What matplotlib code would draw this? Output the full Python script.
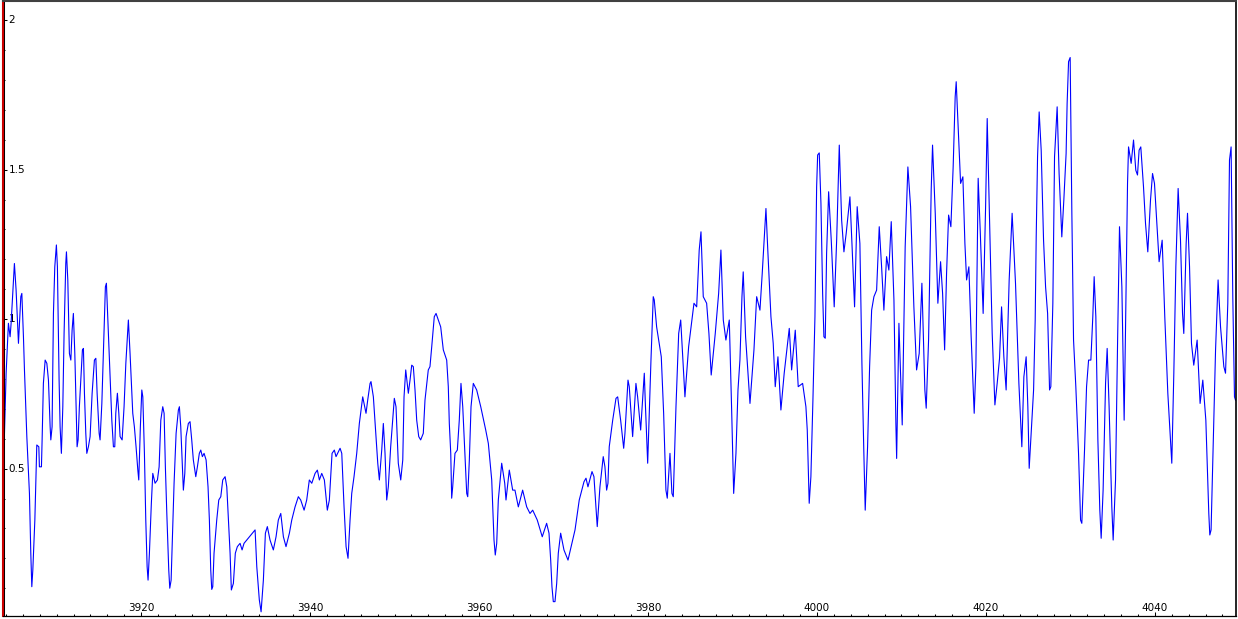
import matplotlib
matplotlib.use('Agg')
import matplotlib.pyplot as plt
from matplotlib.ticker import MultipleLocator

# values (x = sample position, y = amplitude)
x_vals = [
    3903.70, 3903.78, 3904.02, 3904.29, 3904.49, 3904.61, 3904.81, 3905.00, 3905.20, 3905.48,
    3905.76, 3905.88, 3906.07, 3906.19, 3906.47, 3906.78, 3906.94, 3907.06, 3907.18, 3907.42,
    3907.57, 3907.65, 3907.89, 3907.96, 3908.20, 3908.28, 3908.43, 3908.64, 3908.84, 3909.03,
    3909.23, 3909.31, 3909.46, 3909.62, 3909.78, 3909.97, 3910.09, 3910.29, 3910.41, 3910.56,
    3910.73, 3910.88, 3911.08, 3911.16, 3911.32, 3911.51, 3911.68, 3911.83, 3911.98, 3912.15,
    3912.30, 3912.42, 3912.54, 3912.69, 3912.90, 3913.05, 3913.17, 3913.29, 3913.45, 3913.57,
    3913.76, 3913.96, 3914.20, 3914.47, 3914.64, 3914.79, 3915.03, 3915.14, 3915.35, 3915.62,
    3915.77, 3915.89, 3916.09, 3916.33, 3916.53, 3916.72, 3916.88, 3917.00, 3917.19, 3917.36,
    3917.51, 3917.75, 3917.98, 3918.19, 3918.49, 3918.69, 3919.01, 3919.20, 3919.40, 3919.61,
    3919.72, 3919.91, 3920.08, 3920.20, 3920.39, 3920.55, 3920.71, 3920.82, 3920.98, 3921.21,
    3921.38, 3921.65, 3921.93, 3922.13, 3922.33, 3922.56, 3922.72, 3922.87, 3923.04, 3923.27,
    3923.39, 3923.55, 3923.75, 3923.90, 3924.14, 3924.41, 3924.53, 3924.69, 3924.85, 3925.00,
    3925.17, 3925.32, 3925.59, 3925.79, 3925.99, 3926.18, 3926.47, 3926.66, 3926.89, 3927.06,
    3927.25, 3927.45, 3927.69, 3927.92, 3928.08, 3928.24, 3928.36, 3928.48, 3928.63, 3928.95,
    3929.19, 3929.43, 3929.66, 3929.94, 3930.14, 3930.33, 3930.53, 3930.68, 3930.92, 3931.15,
    3931.39, 3931.71, 3931.95, 3932.18, 3932.50, 3932.81, 3933.49, 3933.69, 3933.99, 3934.20,
    3934.47, 3934.71, 3934.94, 3935.26, 3935.65, 3935.97, 3936.24, 3936.53, 3936.84, 3937.15,
    3937.55, 3937.83, 3938.22, 3938.61, 3938.89, 3939.29, 3939.60, 3939.91, 3940.20, 3940.59,
    3940.86, 3941.10, 3941.38, 3941.69, 3942.04, 3942.28, 3942.60, 3942.87, 3943.07, 3943.55,
    3943.75, 3944.02, 3944.26, 3944.49, 3944.73, 3944.93, 3945.20, 3945.52, 3945.83, 3946.23,
    3946.62, 3946.82, 3947.10, 3947.21, 3947.49, 3947.72, 3948.01, 3948.20, 3948.48, 3948.67,
    3948.87, 3949.07, 3949.26, 3949.54, 3949.78, 3949.97, 3950.17, 3950.44, 3950.73, 3950.97,
    3951.12, 3951.32, 3951.63, 3951.83, 3952.03, 3952.22, 3952.42, 3952.62, 3952.86, 3953.09,
    3953.40, 3953.60, 3953.99, 3954.19, 3954.40, 3954.70, 3954.91, 3955.18, 3955.46, 3955.77,
    3956.17, 3956.36, 3956.48, 3956.65, 3956.76, 3956.88, 3957.15, 3957.43, 3957.66, 3957.86,
    3958.07, 3958.54, 3958.66, 3958.85, 3959.05, 3959.32, 3959.72, 3960.20, 3960.79, 3961.10,
    3961.50, 3961.77, 3961.92, 3962.09, 3962.28, 3962.68, 3963.04, 3963.19, 3963.58, 3963.98,
    3964.25, 3964.65, 3965.16, 3965.64, 3966.03, 3966.35, 3966.89, 3967.48, 3968.00, 3968.28,
    3968.48, 3968.63, 3968.79, 3968.99, 3969.19, 3969.38, 3969.66, 3970.05, 3970.53, 3971.08,
    3971.36, 3971.86, 3972.42, 3972.66, 3972.89, 3973.37, 3973.60, 3973.84, 3973.99, 3974.31,
    3974.70, 3974.90, 3975.10, 3975.26, 3975.41, 3975.82, 3976.21, 3976.41, 3976.76, 3977.12,
    3977.27, 3977.63, 3977.78, 3978.18, 3978.57, 3978.77, 3979.13, 3979.56, 3979.67, 3979.96,
    3980.15, 3980.35, 3980.62, 3980.74, 3981.02, 3981.57, 3981.85, 3982.12, 3982.28, 3982.60,
    3982.83, 3982.99, 3983.31, 3983.63, 3983.87, 3984.17, 3984.37, 3984.81, 3985.24, 3985.44,
    3985.76, 3986.06, 3986.27, 3986.54, 3986.94, 3987.21, 3987.48, 3987.96, 3988.36, 3988.63,
    3988.91, 3989.22, 3989.62, 3989.90, 3990.14, 3990.41, 3990.65, 3990.88, 3991.12, 3991.27,
    3991.55, 3991.98, 3992.07, 3992.54, 3992.86, 3993.25, 3993.52, 3993.96, 3994.16, 3994.55,
    3994.82, 3995.06, 3995.38, 3995.73, 3996.12, 3996.72, 3997.00, 3997.43, 3997.78, 3998.30,
    3998.69, 3998.85, 3999.08, 3999.28, 3999.52, 3999.76, 3999.96, 4000.08, 4000.27, 4000.47,
    4000.67, 4000.82, 4000.98, 4001.14, 4001.38, 4001.69, 4002.04, 4002.33, 4002.64, 4002.92,
    4003.19, 4003.46, 4003.90, 4004.14, 4004.45, 4004.76, 4005.08, 4005.32, 4005.55, 4005.71,
    4005.99, 4006.23, 4006.47, 4006.74, 4007.06, 4007.37, 4007.65, 4007.92, 4008.24, 4008.51,
    4008.79, 4009.11, 4009.34, 4009.43, 4009.70, 4010.09, 4010.44, 4010.76, 4011.08, 4011.47,
    4011.79, 4012.10, 4012.42, 4012.77, 4012.93, 4013.21, 4013.52, 4013.68, 4014.00, 4014.31,
    4014.63, 4014.87, 4015.11, 4015.34, 4015.58, 4015.85, 4016.12, 4016.36, 4016.48, 4016.76,
    4017.00, 4017.27, 4017.51, 4017.71, 4017.98, 4018.25, 4018.61, 4018.81, 4019.08, 4019.32,
    4019.67, 4019.96, 4020.15, 4020.38, 4020.74, 4021.06, 4021.33, 4021.61, 4021.85, 4022.12,
    4022.39, 4022.75, 4023.10, 4023.50, 4023.90, 4024.25, 4024.49, 4024.76, 4024.96, 4025.12,
    4025.35, 4025.64, 4025.83, 4025.95, 4026.11, 4026.30, 4026.54, 4026.82, 4027.06, 4027.30,
    4027.53, 4027.68, 4027.92, 4028.12, 4028.43, 4028.66, 4028.98, 4029.22, 4029.49, 4029.61,
    4029.78, 4029.97, 4030.17, 4030.37, 4030.64, 4030.96, 4031.20, 4031.35, 4031.67, 4031.91,
    4032.15, 4032.42, 4032.65, 4032.81, 4033.01, 4033.25, 4033.48, 4033.64, 4033.87, 4034.16,
    4034.35, 4034.58, 4034.90, 4035.06, 4035.34, 4035.58, 4035.81, 4036.09, 4036.36, 4036.52,
    4036.76, 4036.88, 4037.19, 4037.47, 4037.74, 4037.94, 4038.13, 4038.33, 4038.65, 4038.89,
    4039.16, 4039.48, 4039.72, 4039.95, 4040.23, 4040.50, 4040.86, 4041.17, 4041.53, 4042.00,
    4042.24, 4042.48, 4042.75, 4043.03, 4043.27, 4043.42, 4043.70, 4043.86, 4044.10, 4044.33,
    4044.60, 4045.00, 4045.35, 4045.67, 4046.03, 4046.38, 4046.50, 4046.65, 4046.94, 4047.18,
    4047.48, 4047.77, 4048.16, 4048.36, 4048.63, 4048.83, 4049.02, 4049.22, 4049.42, 4049.54,
]
y_vals = [
    0.417, 0.573, 0.819, 0.986, 0.941, 0.986, 1.086, 1.186, 1.097, 0.919,
    1.075, 1.086, 0.941, 0.830, 0.607, 0.417, 0.217, 0.105, 0.161, 0.328,
    0.484, 0.579, 0.573, 0.506, 0.506, 0.596, 0.785, 0.863, 0.852, 0.796,
    0.640, 0.596, 0.640, 1.019, 1.175, 1.248, 1.175, 0.796, 0.640, 0.551,
    0.707, 0.952, 1.186, 1.225, 1.131, 0.885, 0.863, 0.963, 1.019, 0.885,
    0.707, 0.573, 0.596, 0.707, 0.819, 0.897, 0.902, 0.752, 0.618, 0.551,
    0.573, 0.607, 0.752, 0.863, 0.869, 0.752, 0.618, 0.596, 0.718, 0.974,
    1.108, 1.120, 0.974, 0.796, 0.662, 0.573, 0.573, 0.685, 0.752, 0.685,
    0.607, 0.596, 0.707, 0.852, 0.997, 0.885, 0.685, 0.640, 0.573, 0.495,
    0.462, 0.640, 0.763, 0.740, 0.551, 0.328, 0.172, 0.127, 0.217, 0.384,
    0.484, 0.451, 0.462, 0.506, 0.662, 0.707, 0.685, 0.506, 0.350, 0.161,
    0.100, 0.127, 0.306, 0.451, 0.618, 0.696, 0.707, 0.640, 0.529, 0.428,
    0.484, 0.607, 0.651, 0.657, 0.596, 0.529, 0.473, 0.506, 0.551, 0.562,
    0.540, 0.551, 0.529, 0.439, 0.328, 0.161, 0.096, 0.105, 0.217, 0.328,
    0.395, 0.406, 0.462, 0.473, 0.439, 0.328, 0.217, 0.094, 0.116, 0.217,
    0.239, 0.250, 0.228, 0.250, 0.261, 0.272, 0.295, 0.172, 0.061, 0.021,
    0.127, 0.284, 0.306, 0.261, 0.228, 0.272, 0.328, 0.350, 0.272, 0.239,
    0.284, 0.328, 0.372, 0.406, 0.395, 0.361, 0.395, 0.462, 0.451, 0.484,
    0.495, 0.462, 0.484, 0.462, 0.361, 0.395, 0.551, 0.562, 0.540, 0.568,
    0.551, 0.372, 0.239, 0.200, 0.328, 0.417, 0.473, 0.551, 0.651, 0.740,
    0.685, 0.729, 0.785, 0.791, 0.740, 0.640, 0.518, 0.462, 0.562, 0.651,
    0.551, 0.395, 0.439, 0.573, 0.662, 0.735, 0.707, 0.518, 0.462, 0.529,
    0.740, 0.830, 0.752, 0.796, 0.846, 0.841, 0.763, 0.662, 0.607, 0.596,
    0.618, 0.729, 0.830, 0.841, 0.908, 1.008, 1.019, 0.997, 0.974, 0.897,
    0.863, 0.774, 0.651, 0.551, 0.401, 0.439, 0.551, 0.562, 0.662, 0.785,
    0.707, 0.417, 0.406, 0.529, 0.707, 0.785, 0.763, 0.707, 0.629, 0.584,
    0.462, 0.261, 0.211, 0.250, 0.395, 0.518, 0.451, 0.395, 0.495, 0.428,
    0.428, 0.372, 0.428, 0.372, 0.350, 0.361, 0.328, 0.272, 0.317, 0.284,
    0.194, 0.105, 0.055, 0.055, 0.116, 0.217, 0.284, 0.228, 0.194, 0.261,
    0.295, 0.395, 0.456, 0.468, 0.439, 0.490, 0.473, 0.372, 0.306, 0.439,
    0.540, 0.506, 0.428, 0.451, 0.573, 0.662, 0.735, 0.740, 0.662, 0.568,
    0.618, 0.796, 0.774, 0.607, 0.785, 0.740, 0.629, 0.819, 0.729, 0.518,
    0.685, 0.863, 1.075, 1.064, 0.974, 0.874, 0.685, 0.428, 0.401, 0.551,
    0.417, 0.406, 0.707, 0.952, 0.997, 0.841, 0.740, 0.908, 1.008, 1.053,
    1.041, 1.231, 1.292, 1.075, 1.053, 0.952, 0.813, 0.952, 1.086, 1.231,
    0.997, 0.930, 0.997, 0.696, 0.417, 0.551, 0.763, 0.863, 1.075, 1.158,
    0.941, 0.752, 0.718, 0.897, 1.075, 1.030, 1.153, 1.370, 1.242, 1.008,
    0.919, 0.774, 0.874, 0.696, 0.819, 0.969, 0.830, 0.963, 0.774, 0.785,
    0.707, 0.629, 0.384, 0.473, 0.729, 1.008, 1.443, 1.549, 1.556, 1.387,
    1.086, 0.941, 0.936, 1.220, 1.426, 1.264, 1.041, 1.264, 1.582, 1.331,
    1.225, 1.287, 1.409, 1.253, 1.041, 1.376, 1.253, 0.852, 0.551, 0.361,
    0.573, 0.841, 1.030, 1.075, 1.097, 1.309, 1.175, 1.030, 1.209, 1.164,
    1.326, 1.064, 0.651, 0.534, 0.986, 0.646, 1.242, 1.509, 1.376, 1.041,
    0.830, 0.885, 1.120, 0.763, 0.702, 0.930, 1.432, 1.582, 1.354, 1.053,
    1.192, 1.086, 0.897, 1.153, 1.348, 1.309, 1.509, 1.744, 1.794, 1.610,
    1.454, 1.476, 1.253, 1.131, 1.175, 0.941, 0.685, 0.841, 1.471, 1.298,
    1.019, 1.376, 1.671, 1.387, 0.952, 0.713, 0.785, 0.869, 1.041, 0.874,
    0.763, 1.131, 1.354, 1.120, 0.785, 0.573, 0.807, 0.874, 0.707, 0.501,
    0.618, 0.763, 0.997, 1.275, 1.543, 1.693, 1.565, 1.264, 1.108, 1.019,
    0.763, 0.774, 1.053, 1.543, 1.710, 1.487, 1.275, 1.398, 1.554, 1.721,
    1.861, 1.875, 1.354, 0.930, 0.774, 0.551, 0.328, 0.317, 0.562, 0.774,
    0.863, 0.863, 1.008, 1.142, 1.008, 0.596, 0.361, 0.267, 0.428, 0.785,
    0.902, 0.707, 0.372, 0.261, 0.462, 0.919, 1.309, 1.108, 0.662, 0.963,
    1.454, 1.576, 1.521, 1.599, 1.498, 1.482, 1.565, 1.576, 1.443, 1.320,
    1.225, 1.398, 1.487, 1.454, 1.320, 1.192, 1.264, 1.008, 0.752, 0.518,
    0.819, 1.175, 1.437, 1.264, 1.019, 0.952, 1.253, 1.354, 1.175, 0.919,
    0.846, 0.930, 0.718, 0.796, 0.662, 0.350, 0.278, 0.295, 0.618, 0.897,
    1.131, 0.974, 0.841, 0.819, 1.053, 1.532, 1.576, 1.075, 0.740, 0.729,
]

x_ticks = [3920, 3940, 3960, 3980, 4000, 4020, 4040]
x_tick_labels = ['3920', '3940', '3960', '3980', '4000', '4020', '4040']
y_ticks = [0.5, 1.0, 1.5, 2.0]
y_tick_labels = ['0.5', '1', '1.5', '2']

W, H = 1238, 619
fig = plt.figure(figsize=(W / 100, H / 100), dpi=100, facecolor='white')
# plot area in pixel terms: left 3, right 1236, top 1, bottom 616
ax = fig.add_axes([3 / W, (H - 616) / H, (1236 - 3) / W, (616 - 1) / H])

ax.plot(x_vals, y_vals, color='#0000ff', lw=0.8)

ax.set_xlim(3903.65, 4049.6)
ax.set_ylim(0.007, 2.064)

ax.set_xticks(x_ticks)
ax.set_xticklabels(x_tick_labels)
ax.set_yticks(y_ticks)
ax.set_yticklabels(y_tick_labels)
ax.xaxis.set_minor_locator(MultipleLocator(2))
ax.yaxis.set_minor_locator(MultipleLocator(0.1))

ax.tick_params(which='both', direction='in', colors='black', labelsize=7.5,
               width=0.75)
ax.tick_params(which='major', length=3)
ax.tick_params(which='minor', length=1.5)
ax.tick_params(axis='y', pad=-4)
ax.tick_params(axis='x', pad=-3.6)
for lbl in ax.get_yticklabels():
    lbl.set_horizontalalignment('left')
    lbl.set_verticalalignment('center')
for lbl in ax.get_xticklabels():
    lbl.set_verticalalignment('baseline')

# red left edge with a thin dark line just inside it
ax.spines['left'].set_color('#cc0000')
ax.spines['left'].set_linewidth(1.5)
ax.axvline(3903.78, color='black', lw=0.75)
ax.spines['top'].set_color('#404040')
ax.spines['top'].set_linewidth(1.5)
ax.spines['right'].set_color('black')
ax.spines['right'].set_linewidth(1.2)
ax.spines['bottom'].set_color('black')
ax.spines['bottom'].set_linewidth(0.9)

fig.savefig('out.png', dpi=100, facecolor='white')
